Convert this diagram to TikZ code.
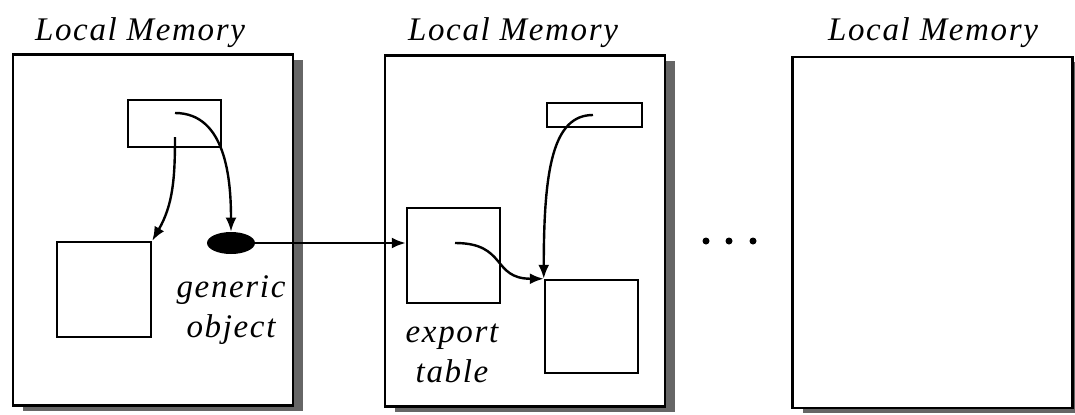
\documentclass[tikz,border=0pt]{standalone}
\usepackage{fontspec}
\setmainfont{Liberation Serif}
\newfontfamily\memfont[LetterSpace=5]{Liberation Serif}
\usepackage{tikz}
\usetikzlibrary{positioning,arrows.meta,shadows,shapes.geometric}
\tikzset{
  mem/.style={rectangle, draw=black, fill=white, line width=1.1pt, minimum width=140pt, minimum height=175.5pt, inner sep=0pt,
    drop shadow={shadow xshift=5pt, shadow yshift=-2.5pt, fill=black!60, opacity=1}},
  cell/.style={rectangle, draw=black, line width=1.25pt, inner sep=0pt},
  gen/.style={ellipse, fill=black, minimum width=24pt, minimum height=11pt, inner sep=0pt},
  ptr/.style={draw=black, line width=1.2pt, -{Latex[length=7pt,width=5.5pt]}},
  lbl/.style={font=\memfont\itshape\fontsize{16.5}{20}\selectfont, inner sep=0pt},
  dot/.style={circle, fill=black, minimum size=3.5pt, inner sep=0pt}
}

\begin{document}
\begin{tikzpicture}[x=0.5pt,y=0.5pt]
  \useasboundingbox (0,0) rectangle (1075,414);
  \node[mem] (m1) at (153,184) {};
  \node[mem] (m2) at (525,183) {};
  \node[mem] (m3) at (932.5,181.5) {};
  \node[lbl, anchor=base] (t1) at (140,374) {Local Memory};
  \node[lbl, anchor=base] (t2) at (513,374) {Local Memory};
  \node[lbl, anchor=base] (t3) at (933,374) {Local Memory};

  \node[cell, minimum width=46.5pt, minimum height=23.5pt] (p1top) at (174.5,290.5) {};
  \node[cell, minimum width=47pt, minimum height=47.5pt] (p1obj) at (104,124.5) {};
  \node[gen] (gobj) at (231,171) {};
  \node[lbl, align=center, anchor=base] (gtxt) at (231,77) {generic\\object};
  \coordinate (p1a) at (175,301);
  \coordinate (p1b) at (175,277);
  \draw[ptr] (p1a) to[out=0,in=90] (gobj.north);
  \draw[ptr] (p1b) to[out=-90,in=60] (p1obj.north east);

  \node[cell, minimum width=46.5pt, minimum height=47.5pt] (p2tab) at (453.5,158.5) {};
  \node[cell, minimum width=47.5pt, minimum height=12pt] (p2top) at (594.5,299) {};
  \node[cell, minimum width=46.5pt, minimum height=46.5pt] (p2obj) at (591.5,87.5) {};
  \node[lbl, align=center, anchor=base] (etxt) at (452,32) {export\\table};
  \coordinate (p2a) at (455,171);
  \coordinate (p2b) at (593,299);
  \draw[ptr] (gobj.east) -- (gobj.east -| p2tab.west);
  \draw[ptr] (p2a) to[out=0,in=180,looseness=1.4] (p2obj.north west);
  \draw[ptr] (p2b) .. controls +(-40,0) and +(0,110) .. (p2obj.north west);

  \foreach \x [count=\i] in {706,729,753}
    \node[dot] (dot\i) at (\x,173) {};
\end{tikzpicture}
\end{document}
